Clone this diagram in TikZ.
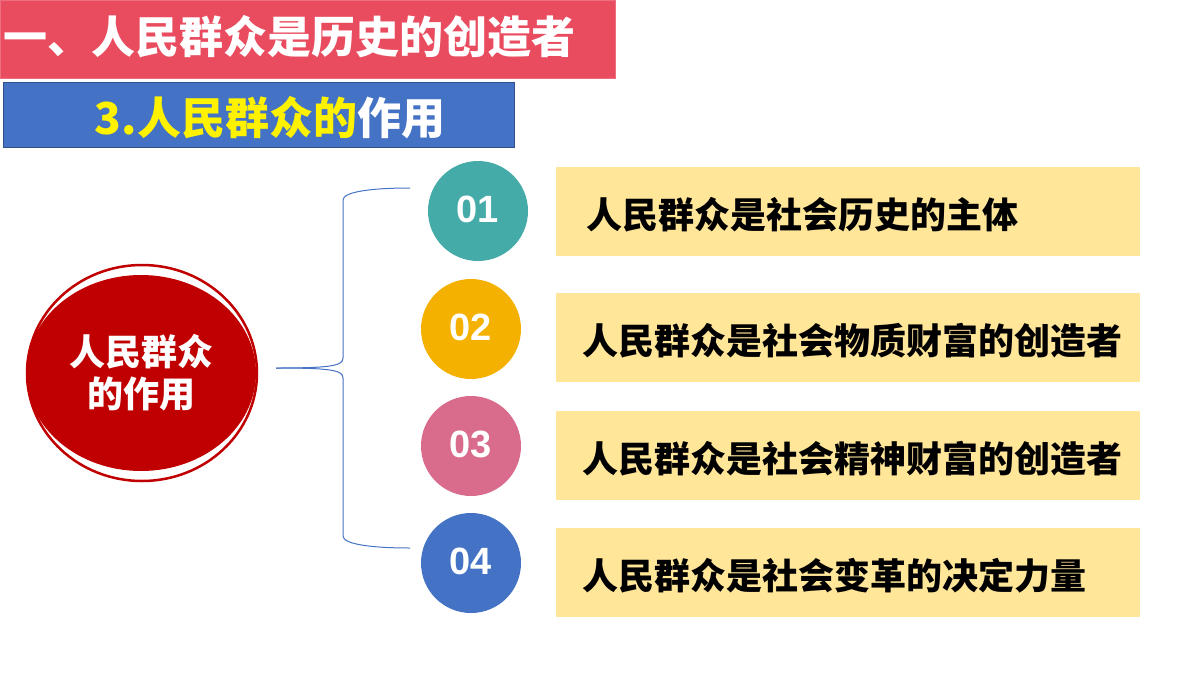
\documentclass[tikz,border=0pt]{standalone}
\usepackage{fontspec}
\usetikzlibrary{shapes.geometric}
\setmainfont{Noto Sans CJK SC}
\newfontfamily\numfont{Liberation Sans}
\definecolor{titlered}{HTML}{E94B5F}
\definecolor{subblue}{HTML}{4472C4}
\definecolor{darkred}{HTML}{C00000}
\definecolor{cteal}{HTML}{45ABA8}
\definecolor{corange}{HTML}{F5B100}
\definecolor{cpink}{HTML}{D96C8D}
\definecolor{cblue}{HTML}{4472C4}
\definecolor{boxyellow}{HTML}{FFE699}
\tikzset{
  numdot/.style={circle, minimum size=100pt, inner sep=0pt, text=white,
    font=\numfont\bfseries\fontsize{38}{38}\selectfont},
  itembox/.style={fill=boxyellow, minimum width=584pt, minimum height=89pt,
    inner sep=0pt, anchor=west},
  itemtext/.style={anchor=west, font=\bfseries\fontsize{36}{36}\selectfont},
  brace/.style={draw=subblue, line width=1pt}
}
\begin{document}
\begin{tikzpicture}[x=1pt,y=-1pt]
  \useasboundingbox (0,0) rectangle (1200,675);

  % headings
  \draw[fill=titlered, draw=titlered!80!white] (0,0) rectangle (615,78);
  \node[anchor=west, inner sep=0pt, text=white, font=\bfseries\fontsize{44}{44}\selectfont] (title) at (3,37) {一、人民群众是历史的创造者};
  \draw[fill=subblue, draw=subblue!70!black] (3,82) rectangle (514,147);
  \node[font=\bfseries\fontsize{44}{44}\selectfont] (sub) at (270,118) {\textcolor{yellow}{3.人民群众的}\textcolor{white}{作用}};

  % center ellipse
  \draw[darkred, line width=2.5pt] (142,373) ellipse (115pt and 108pt);
  \node[ellipse, fill=darkred, minimum width=230pt, minimum height=196pt, inner sep=0pt,
    text=white, align=center, font=\bfseries\fontsize{36}{42}\selectfont] (core) at (141,373) {人民群众\\的作用};

  % brace
  \coordinate (tip) at (276,368);
  \coordinate (top) at (410,188);
  \coordinate (bot) at (410,548);
  \draw[brace] (tip) .. controls (330,368) and (343,366) .. (343,358) -- (343,200)
    .. controls (343,192) and (370,188) .. (top);
  \draw[brace] (tip) .. controls (330,368) and (343,370) .. (343,378) -- (343,536)
    .. controls (343,544) and (370,548) .. (bot);

  % items
  \node[numdot, fill=cteal] (n1) at (478,211) {\raisebox{4pt}{01}};
  \node[numdot, fill=corange] (n2) at (471,329) {\raisebox{4pt}{02}};
  \node[numdot, fill=cpink] (n3) at (471,446) {\raisebox{4pt}{03}};
  \node[numdot, fill=cblue] (n4) at (471,563) {\raisebox{4pt}{04}};

  \node[itembox] (b1) at (556,211) {};
  \node[itembox] (b2) at (556,337) {};
  \node[itembox] (b3) at (556,455) {};
  \node[itembox] (b4) at (556,572) {};

  \node[itemtext, inner sep=0pt] (t1) at (586,215) {人民群众是社会历史的主体};
  \node[itemtext, inner sep=0pt] (t2) at (582,341) {人民群众是社会物质财富的创造者};
  \node[itemtext, inner sep=0pt] (t3) at (582,459) {人民群众是社会精神财富的创造者};
  \node[itemtext, inner sep=0pt] (t4) at (582,576) {人民群众是社会变革的决定力量};
\end{tikzpicture}
\end{document}
